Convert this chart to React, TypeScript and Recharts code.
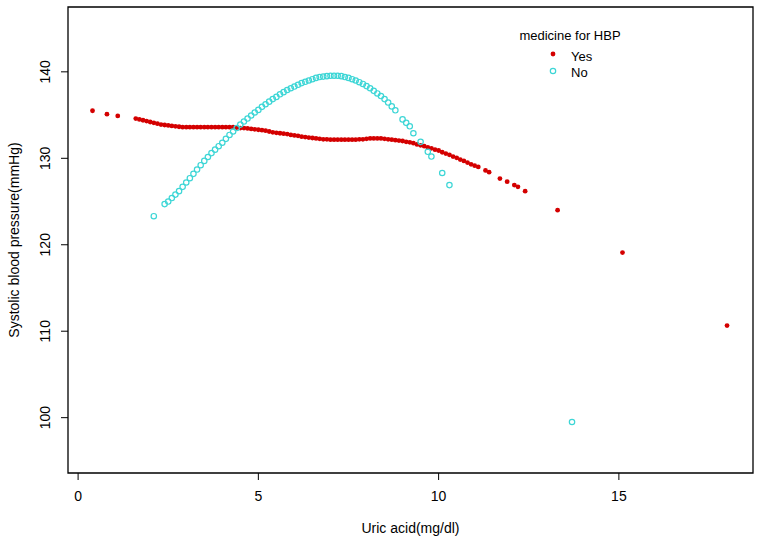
import {
  ScatterChart,
  Scatter,
  XAxis,
  YAxis,
  ReferenceArea,
} from "recharts";

const FONT = '"Liberation Sans", Arial, sans-serif';
const RED = "#d40000";
const CYAN = "#3dd6d6";

const xTicks = [0, 5, 10, 15];
const yTicks = [100, 110, 120, 130, 140];
const xDomain: [number, number] = [-0.28, 18.72];
const yDomain: [number, number] = [93.6, 147.5];

const legendTitle = "medicine for HBP";
const seriesNames = ["Yes", "No"];

// medicine for HBP = Yes
const yesX = [
  0.4, 0.8, 1.1,
  1.6, 1.7, 1.8, 1.9, 2.0, 2.1, 2.2, 2.3, 2.4, 2.5, 2.6, 2.7, 2.8, 2.9,
  3.0, 3.1, 3.2, 3.3, 3.4, 3.5, 3.6, 3.7, 3.8, 3.9,
  4.0, 4.1, 4.2, 4.3, 4.4, 4.5, 4.6, 4.7, 4.8, 4.9,
  5.0, 5.1, 5.2, 5.3, 5.4, 5.5, 5.6, 5.7, 5.8, 5.9,
  6.0, 6.1, 6.2, 6.3, 6.4, 6.5, 6.6, 6.7, 6.8, 6.9,
  7.0, 7.1, 7.2, 7.3, 7.4, 7.5, 7.6, 7.7, 7.8, 7.9,
  8.0, 8.1, 8.2, 8.3, 8.4, 8.5, 8.6, 8.7, 8.8, 8.9,
  9.0, 9.1, 9.2, 9.3, 9.4, 9.5, 9.6, 9.7, 9.8, 9.9,
  10.0, 10.1, 10.2, 10.3, 10.4, 10.5, 10.6, 10.7, 10.8, 10.9,
  11.0, 11.1, 11.3, 11.4, 11.7, 11.9, 12.1, 12.2, 12.4,
  13.3, 15.1, 18.0,
];
const yesY = [
  135.5, 135.1, 134.9,
  134.6, 134.5, 134.4, 134.3, 134.2, 134.1, 134.0, 133.9, 133.85, 133.8, 133.75, 133.7, 133.65, 133.6,
  133.6, 133.6, 133.6, 133.6, 133.6, 133.6, 133.6, 133.6, 133.6, 133.6,
  133.6, 133.6, 133.6, 133.6, 133.55, 133.5, 133.5, 133.45, 133.4, 133.35,
  133.3, 133.25, 133.2, 133.1, 133.0, 132.95, 132.9, 132.85, 132.8, 132.7,
  132.65, 132.6, 132.5, 132.45, 132.4, 132.35, 132.3, 132.25, 132.2, 132.2,
  132.15, 132.15, 132.15, 132.15, 132.15, 132.15, 132.15, 132.15, 132.2, 132.2,
  132.25, 132.3, 132.3, 132.3, 132.3, 132.25, 132.2, 132.15, 132.1, 132.05,
  132.0, 131.9, 131.85, 131.75, 131.6, 131.5, 131.4, 131.25, 131.15, 131.0,
  130.9, 130.7, 130.55, 130.4, 130.2, 130.05, 129.85, 129.7, 129.5, 129.3,
  129.15, 129.0, 128.6, 128.4, 127.65, 127.3, 126.9, 126.7, 126.2,
  124.0, 119.1, 110.65,
];

// medicine for HBP = No
const noX = [
  2.1, 2.4, 2.5, 2.6, 2.7, 2.8, 2.9,
  3.0, 3.1, 3.2, 3.3, 3.4, 3.5, 3.6, 3.7, 3.8, 3.9,
  4.0, 4.1, 4.2, 4.3, 4.4, 4.5, 4.6, 4.7, 4.8, 4.9,
  5.0, 5.1, 5.2, 5.3, 5.4, 5.5, 5.6, 5.7, 5.8, 5.9,
  6.0, 6.1, 6.2, 6.3, 6.4, 6.5, 6.6, 6.7, 6.8, 6.9,
  7.0, 7.1, 7.2, 7.3, 7.4, 7.5, 7.6, 7.7, 7.8, 7.9,
  8.0, 8.1, 8.2, 8.3, 8.4, 8.5, 8.6, 8.7, 8.8,
  9.0, 9.1, 9.2, 9.3, 9.5, 9.7, 9.8, 10.1, 10.3,
  13.7,
];
const noY = [
  123.3, 124.7, 125.0, 125.4, 125.8, 126.2, 126.7,
  127.2, 127.7, 128.2, 128.7, 129.2, 129.7, 130.15, 130.6, 131.0, 131.4,
  131.8, 132.25, 132.7, 133.1, 133.5, 133.9, 134.25, 134.6, 134.95, 135.3,
  135.6, 135.95, 136.25, 136.55, 136.85, 137.1, 137.4, 137.65, 137.9, 138.1,
  138.3, 138.5, 138.7, 138.85, 139.0, 139.15, 139.3, 139.4, 139.45, 139.5,
  139.55, 139.55, 139.55, 139.5, 139.4, 139.3, 139.15, 139.0, 138.8, 138.6,
  138.35, 138.1, 137.8, 137.5, 137.2, 136.85, 136.45, 136.0, 135.55,
  134.5, 134.1, 133.7, 132.9, 131.9, 130.75, 130.2, 128.3, 126.9,
  99.5,
];

const yesData = yesX.map((x, i) => ({ x, y: yesY[i] }));
const noData = noX.map((x, i) => ({ x, y: noY[i] }));

const XTick = ({ x, y, payload }: any) => (
  <text x={x} y={y + 19} textAnchor="middle" fontSize={14} fontFamily={FONT} fill="#000">
    {payload.value}
  </text>
);

const YTick = ({ x, y, payload }: any) => (
  <text
    x={x - 9}
    y={y}
    transform={`rotate(-90, ${x - 9}, ${y})`}
    textAnchor="middle"
    fontSize={14}
    fontFamily={FONT}
    fill="#000"
  >
    {payload.value}
  </text>
);

const XTitle = ({ viewBox }: any) => (
  <text
    x={viewBox.x + viewBox.width / 2}
    y={viewBox.y + 60}
    textAnchor="middle"
    fontSize={14}
    fontFamily={FONT}
    fill="#000"
  >
    Uric acid(mg/dl)
  </text>
);

const YTitle = ({ viewBox }: any) => {
  const cx = 19;
  const cy = viewBox.y + viewBox.height / 2;
  return (
    <text
      x={cx}
      y={cy}
      transform={`rotate(-90, ${cx}, ${cy})`}
      textAnchor="middle"
      fontSize={14}
      fontFamily={FONT}
      fill="#000"
    >
      Systolic blood pressure(mmHg)
    </text>
  );
};

const Dot = (props: any) => <circle cx={props.cx} cy={props.cy} r={2.4} fill={RED} />;
const Ring = (props: any) => (
  <circle cx={props.cx} cy={props.cy} r={2.7} fill="none" stroke={CYAN} strokeWidth={1.2} />
);

const LegendBox = () => (
  <svg
    width={140}
    height={70}
    style={{ position: "absolute", left: 500, top: 20 }}
    fontFamily={FONT}
  >
    <text x={70} y={20} textAnchor="middle" fontSize={13}>
      {legendTitle}
    </text>
    <circle cx={53} cy={34} r={2.4} fill={RED} />
    <text x={71} y={41} fontSize={13}>
      {seriesNames[0]}
    </text>
    <circle cx={53} cy={51} r={2.7} fill="none" stroke={CYAN} strokeWidth={1.2} />
    <text x={71} y={57} fontSize={13}>
      {seriesNames[1]}
    </text>
  </svg>
);

export default function App() {
  return (
    <div style={{ position: "absolute", left: 0, top: 0, width: 765, height: 540, background: "#fff" }}>
      <ScatterChart
        width={765}
        height={540}
        margin={{ top: 7, right: 12, bottom: 0, left: 0 }}
      >
        <XAxis
          type="number"
          dataKey="x"
          domain={xDomain}
          ticks={xTicks}
          allowDataOverflow
          height={67}
          axisLine={false}
          tickSize={7}
          tickLine={{ stroke: "#000" }}
          tick={<XTick />}
          label={<XTitle />}
        />
        <YAxis
          type="number"
          dataKey="y"
          domain={yDomain}
          ticks={yTicks}
          allowDataOverflow
          width={68}
          axisLine={false}
          tickSize={7}
          tickLine={{ stroke: "#000" }}
          tick={<YTick />}
          label={<YTitle />}
        />
        <ReferenceArea
          x1={xDomain[0]}
          x2={xDomain[1]}
          y1={yDomain[0]}
          y2={yDomain[1]}
          fill="none"
          fillOpacity={0}
          stroke="#000"
          strokeWidth={1.3}
          ifOverflow="visible"
        />
        <Scatter name={seriesNames[0]} data={yesData} shape={<Dot />} isAnimationActive={false} />
        <Scatter name={seriesNames[1]} data={noData} shape={<Ring />} isAnimationActive={false} />
      </ScatterChart>
      <LegendBox />
    </div>
  );
}
